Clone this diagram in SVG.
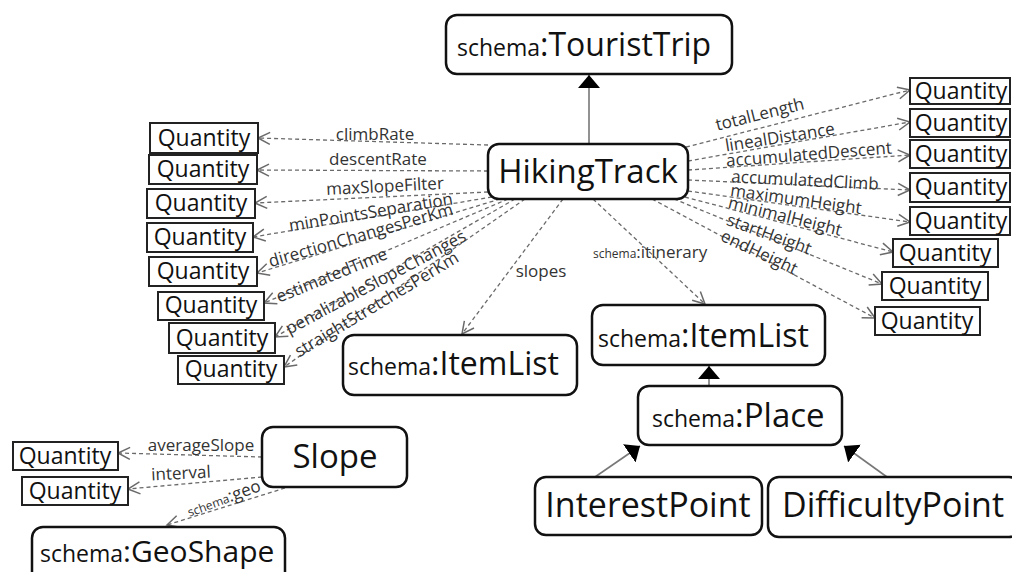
<svg xmlns="http://www.w3.org/2000/svg" width="1012" height="572" viewBox="0 0 1012 572">
<defs>
<style>
text{font-family:"Open Sans","DejaVu Sans",sans-serif;fill:#111}
.node{fill:#fff;stroke:#111;stroke-width:2.5}
.q{fill:#fff;stroke:#222;stroke-width:2}
.qt{font-size:23px}
.big{font-size:32px}
.sm{font-size:23px}
.lbl{font-size:17px;fill:#333}
.lsm{font-size:12px;fill:#333}
.dash{fill:none;stroke:#6a6a6a;stroke-width:1.3;stroke-dasharray:4 3}
.inh{fill:none;stroke:#777;stroke-width:1.6}
</style>
<marker id="open" viewBox="-1 -8 15 16" refX="12" refY="0" markerWidth="15" markerHeight="16" markerUnits="userSpaceOnUse" orient="auto">
<path d="M0,-6 L12,0 L0,6" fill="none" stroke="#6a6a6a" stroke-width="1.5"/>
</marker>
<marker id="tri" viewBox="0 -12 13 24" refX="13" refY="0" markerWidth="13" markerHeight="24" markerUnits="userSpaceOnUse" orient="auto">
<path d="M0,-11 L13,0 L0,11 Z" fill="#000"/>
</marker>
</defs>

<g id="connectors">
<line class="inh" x1="589" y1="144" x2="589" y2="75" marker-end="url(#tri)"/>
<line class="inh" x1="709" y1="386" x2="709" y2="366" marker-end="url(#tri)"/>
<line class="inh" x1="595" y1="477" x2="640" y2="446" marker-end="url(#tri)"/>
<line class="inh" x1="887" y1="477" x2="844" y2="446" marker-end="url(#tri)"/>

<line class="dash" x1="488" y1="145" x2="258" y2="138" marker-end="url(#open)"/>
<line class="dash" x1="488" y1="171" x2="257" y2="170" marker-end="url(#open)"/>
<line class="dash" x1="488" y1="192" x2="255" y2="203" marker-end="url(#open)"/>
<line class="dash" x1="492" y1="197" x2="253" y2="237" marker-end="url(#open)"/>
<line class="dash" x1="500" y1="199" x2="257" y2="273" marker-end="url(#open)"/>
<line class="dash" x1="508" y1="199" x2="264" y2="303" marker-end="url(#open)"/>
<line class="dash" x1="515" y1="199" x2="275" y2="337" marker-end="url(#open)"/>
<line class="dash" x1="525" y1="199" x2="284" y2="367" marker-end="url(#open)"/>
<line class="dash" x1="563" y1="199" x2="462" y2="334" marker-end="url(#open)"/>
<line class="dash" x1="593" y1="199" x2="705" y2="304" marker-end="url(#open)"/>

<line class="dash" x1="686" y1="147" x2="910" y2="90" marker-end="url(#open)"/>
<line class="dash" x1="688" y1="161" x2="910" y2="122" marker-end="url(#open)"/>
<line class="dash" x1="688" y1="170" x2="910" y2="155" marker-end="url(#open)"/>
<line class="dash" x1="688" y1="180" x2="910" y2="190" marker-end="url(#open)"/>
<line class="dash" x1="688" y1="191" x2="910" y2="222" marker-end="url(#open)"/>
<line class="dash" x1="685" y1="197" x2="893" y2="252" marker-end="url(#open)"/>
<line class="dash" x1="674" y1="199" x2="882" y2="284" marker-end="url(#open)"/>
<line class="dash" x1="652" y1="199" x2="875" y2="318" marker-end="url(#open)"/>

<line class="dash" x1="262" y1="457" x2="118" y2="453" marker-end="url(#open)"/>
<line class="dash" x1="262" y1="477" x2="128" y2="489" marker-end="url(#open)"/>
<line class="dash" x1="285" y1="488" x2="167" y2="525" marker-end="url(#open)"/>

<text class="lbl" x="375" y="140" text-anchor="middle">climbRate</text>
<text class="lbl" x="378" y="165" text-anchor="middle">descentRate</text>
<text class="lbl" x="385" y="192" text-anchor="middle" transform="rotate(-3 385 187)">maxSlopeFilter</text>
<text class="lbl" x="371" y="218" text-anchor="middle" transform="rotate(-9.5 371 213)">minPointsSeparation</text>
<text class="lbl" x="361" y="241" text-anchor="middle" transform="rotate(-16 361 236)">directionChangesPerKm</text>
<text class="lbl" x="332" y="281" text-anchor="middle" transform="rotate(-22 332 276)">estimatedTime</text>
<text class="lbl" x="376" y="288" text-anchor="middle" transform="rotate(-28 376 283)">penalizableSlopeChanges</text>
<text class="lbl" x="377" y="310" text-anchor="middle" transform="rotate(-31 377 305)">straightStretchesPerKm</text>
<text class="lbl" x="541" y="277" text-anchor="middle">slopes</text>
<text x="593" y="258"><tspan class="lsm">schema</tspan><tspan class="lbl">:itinerary</tspan></text>

<text class="lbl" x="760" y="120" text-anchor="middle" transform="rotate(-14 760 115)">totalLength</text>
<text class="lbl" x="780" y="143" text-anchor="middle" transform="rotate(-9 780 138)">linealDistance</text>
<text class="lbl" x="809" y="160" text-anchor="middle" transform="rotate(-4.5 809 155)">accumulatedDescent</text>
<text class="lbl" x="805" y="186" text-anchor="middle" transform="rotate(3 805 181)">accumulatedClimb</text>
<text class="lbl" x="796" y="205" text-anchor="middle" transform="rotate(8 796 200)">maximumHeight</text>
<text class="lbl" x="785" y="222" text-anchor="middle" transform="rotate(14 785 217)">minimalHeight</text>
<text class="lbl" x="769" y="240" text-anchor="middle" transform="rotate(20 769 235)">startHeight</text>
<text class="lbl" x="759" y="258" text-anchor="middle" transform="rotate(25 759 253)">endHeight</text>

<text class="lbl" x="201" y="451" text-anchor="middle">averageSlope</text>
<text class="lbl" x="181" y="479" text-anchor="middle" transform="rotate(-3 181 474)">interval</text>
<text x="224" y="504" text-anchor="middle" transform="rotate(-20 224 499)"><tspan class="lsm">schema</tspan><tspan class="lbl">:geo</tspan></text>
</g>

<g id="touristtrip">
<rect class="node" x="446" y="15" width="286" height="59" rx="11"/>
<text x="457" y="56"><tspan class="sm">schema</tspan><tspan class="big">:TouristTrip</tspan></text>
</g>
<g id="hikingtrack">
<rect class="node" x="488" y="144" width="200" height="55" rx="11"/>
<text x="588" y="183" text-anchor="middle" style="font-size:33px">HikingTrack</text>
</g>
<g id="itemlist-slopes">
<rect class="node" x="343" y="335" width="234" height="60" rx="11"/>
<text x="348" y="375"><tspan class="sm">schema</tspan><tspan class="big">:ItemList</tspan></text>
</g>
<g id="itemlist-itinerary">
<rect class="node" x="592" y="305" width="233" height="60" rx="11"/>
<text x="598" y="347"><tspan class="sm">schema</tspan><tspan class="big">:ItemList</tspan></text>
</g>
<g id="place">
<rect class="node" x="638" y="386" width="204" height="59" rx="11"/>
<text x="652" y="427"><tspan class="sm">schema</tspan><tspan class="big" style="font-size:33px">:Place</tspan></text>
</g>
<g id="interestpoint">
<rect class="node" x="535" y="477" width="227" height="58" rx="11"/>
<text x="648" y="517" text-anchor="middle" style="font-size:34px">InterestPoint</text>
</g>
<g id="difficultypoint">
<rect class="node" x="768" y="477" width="252" height="60" rx="11"/>
<text x="782" y="517" style="font-size:34px">DifficultyPoint</text>
</g>
<g id="slope">
<rect class="node" x="262" y="427" width="145" height="60" rx="11"/>
<text x="335" y="468" text-anchor="middle" style="font-size:33px">Slope</text>
</g>
<g id="geoshape">
<rect class="node" x="32" y="527" width="253" height="62" rx="11"/>
<text x="40" y="562"><tspan class="sm">schema</tspan><tspan style="font-size:30px">:GeoShape</tspan></text>
</g>

<g id="q-left-1"><rect class="q" x="150" y="123" width="108" height="30"/><text class="qt" x="204" y="146" text-anchor="middle">Quantity</text></g>
<g id="q-left-2"><rect class="q" x="149" y="155" width="108" height="29"/><text class="qt" x="203" y="177" text-anchor="middle">Quantity</text></g>
<g id="q-left-3"><rect class="q" x="147" y="189" width="108" height="29"/><text class="qt" x="201" y="211" text-anchor="middle">Quantity</text></g>
<g id="q-left-4"><rect class="q" x="147" y="223" width="106" height="29"/><text class="qt" x="200" y="245" text-anchor="middle">Quantity</text></g>
<g id="q-left-5"><rect class="q" x="149" y="257" width="108" height="29"/><text class="qt" x="203" y="279" text-anchor="middle">Quantity</text></g>
<g id="q-left-6"><rect class="q" x="158" y="292" width="106" height="28"/><text class="qt" x="211" y="313" text-anchor="middle">Quantity</text></g>
<g id="q-left-7"><rect class="q" x="169" y="323" width="106" height="30"/><text class="qt" x="222" y="346" text-anchor="middle">Quantity</text></g>
<g id="q-left-8"><rect class="q" x="178" y="356" width="106" height="28"/><text class="qt" x="231" y="377" text-anchor="middle">Quantity</text></g>

<g id="q-right-1"><rect class="q" x="910" y="78" width="100" height="26"/><text class="qt" x="961" y="99" text-anchor="middle">Quantity</text></g>
<g id="q-right-2"><rect class="q" x="910" y="109" width="100" height="28"/><text class="qt" x="961" y="131" text-anchor="middle">Quantity</text></g>
<g id="q-right-3"><rect class="q" x="910" y="140" width="100" height="28"/><text class="qt" x="961" y="162" text-anchor="middle">Quantity</text></g>
<g id="q-right-4"><rect class="q" x="910" y="173" width="100" height="29"/><text class="qt" x="961" y="195" text-anchor="middle">Quantity</text></g>
<g id="q-right-5"><rect class="q" x="910" y="207" width="100" height="28"/><text class="qt" x="961" y="229" text-anchor="middle">Quantity</text></g>
<g id="q-right-6"><rect class="q" x="893" y="239" width="105" height="28"/><text class="qt" x="945" y="261" text-anchor="middle">Quantity</text></g>
<g id="q-right-7"><rect class="q" x="882" y="272" width="106" height="28"/><text class="qt" x="935" y="294" text-anchor="middle">Quantity</text></g>
<g id="q-right-8"><rect class="q" x="875" y="307" width="105" height="28"/><text class="qt" x="927" y="329" text-anchor="middle">Quantity</text></g>

<g id="q-slope-1"><rect class="q" x="13" y="442" width="105" height="28"/><text class="qt" x="65" y="464" text-anchor="middle">Quantity</text></g>
<g id="q-slope-2"><rect class="q" x="22" y="477" width="106" height="28"/><text class="qt" x="75" y="499" text-anchor="middle">Quantity</text></g>
</svg>
